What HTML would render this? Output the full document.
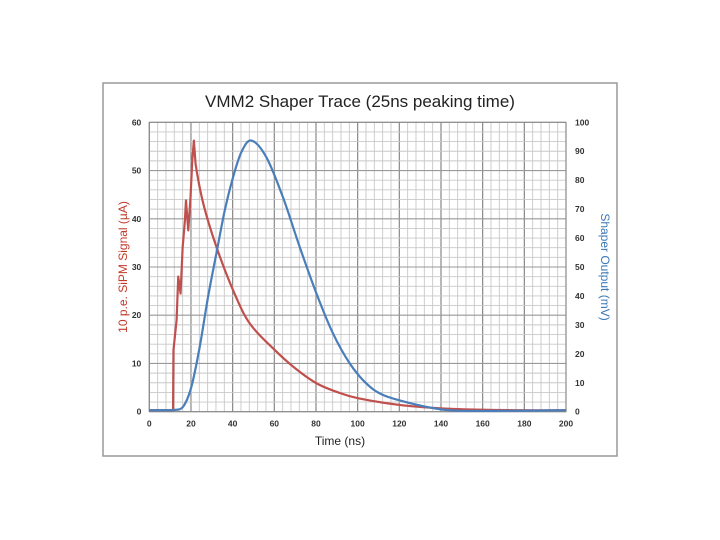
<!DOCTYPE html>
<html><head><meta charset="utf-8"><style>
body{margin:0;background:#fff;}
svg{display:block;font-family:"Liberation Sans",sans-serif;}
</style></head><body>
<svg width="720" height="540">
<rect x="103" y="83" width="514" height="373" fill="#fff" stroke="#999" stroke-width="1.5"/>
<text x="360" y="107" text-anchor="middle" font-size="17" fill="#222">VMM2 Shaper Trace (25ns peaking time)</text>
<g id="grid"></g>
<g id="axes"></g>
<g id="series"></g>
<text x="340" y="445" text-anchor="middle" font-size="12" fill="#222">Time  (ns)</text>
<text transform="translate(127,267) rotate(-90)" text-anchor="middle" font-size="12" fill="#c0392b">10 p.e. SiPM Signal (µA)</text>
<text transform="translate(601,267) rotate(90)" text-anchor="middle" font-size="12" fill="#3a78b8">Shaper Output (mV)</text>
</svg>
<script>
const xTicks=[0,20,40,60,80,100,120,140,160,180,200];
const leftTicks=[0,10,20,30,40,50,60];
const rightTicks=[0,10,20,30,40,50,60,70,80,90,100];
const signalTime=[0,11.4,11.6,13.1,13.9,15,16,17.1,17.6,18.7,19.8,20.6,21.4,22.2,26,32.2,40.2,48.2,60.2,70,80.2,90,100.1,120.1,140,160,180,200];
const signalValue=[0.3,0.3,12.8,19,28,24.5,34,39.7,43.8,37.6,44.5,52,56.2,51.4,43,34.2,25.2,18.3,12.8,9,5.9,4.1,2.8,1.4,0.7,0.4,0.3,0.3];
const shaperTime=[0,10,12,16.2,20.2,24.2,28.2,32.2,36.2,40.2,44.2,49,56.2,64.2,72.2,80.2,88.2,96.2,104.1,112.1,124.9,140,150,170,200];
const shaperValue=[0.5,0.5,0.6,1.7,8.6,22.4,39.7,54.7,69.5,81,89.7,93.7,87.9,74,56.9,40.9,27,16.7,9.8,5.8,3,0.8,0.3,0.3,0.5];
const X0=149.3,X1=566,Y0=411.7,Y1=122.3;
const sx=v=>X0+(v-0)/200*(X1-X0);
const syL=v=>Y0-v/60*(Y0-Y1);
const syR=v=>Y0-v/100*(Y0-Y1);
const NS="http://www.w3.org/2000/svg";
function mk(tag,attrs,parent){const e=document.createElementNS(NS,tag);for(const k in attrs)e.setAttribute(k,attrs[k]);parent.appendChild(e);return e;}
function smoothPath(pts,straightUntil){
  let d='M'+pts[0][0]+','+pts[0][1];
  for(let i=0;i<pts.length-1;i++){
    const p1=pts[i],p2=pts[i+1];
    if(i<straightUntil){d+=' L'+p2[0]+','+p2[1];continue;}
    const p0=pts[Math.max(0,i-1)],p3=pts[Math.min(pts.length-1,i+2)];
    const c1=[p1[0]+(p2[0]-p0[0])/6,p1[1]+(p2[1]-p0[1])/6];
    const c2=[p2[0]-(p3[0]-p1[0])/6,p2[1]-(p3[1]-p1[1])/6];
    d+=' C'+c1[0]+','+c1[1]+' '+c2[0]+','+c2[1]+' '+p2[0]+','+p2[1];
  }
  return d;
}
const grid=document.getElementById('grid'),axes=document.getElementById('axes'),series=document.getElementById('series');
for(let t=0;t<=200;t+=4){const major=t%20===0;
const l=mk('line',{x1:sx(t),x2:sx(t),y1:Y1,y2:Y0,stroke:major?'#888':'#c8c8c8','stroke-width':major?1.2:0.9},grid);

}
for(let v=0;v<=60;v+=2){const major=v%10===0;
const l=mk('line',{x1:X0,x2:X1,y1:syL(v),y2:syL(v),stroke:major?'#999':'#c8c8c8','stroke-width':major?1.1:0.9},grid);

}
mk('rect',{x:X0,y:Y1,width:X1-X0,height:Y0-Y1,fill:'none',stroke:'#888','stroke-width':1},grid);
xTicks.forEach(t=>{const e=mk('text',{x:sx(t),y:Y0+15,'text-anchor':'middle','font-size':8.5,'font-weight':'bold',fill:'#333'},axes);e.textContent=t;

});
leftTicks.forEach(t=>{const e=mk('text',{x:X0-8,y:syL(t)+3,'text-anchor':'end','font-size':8.5,'font-weight':'bold',fill:'#333'},axes);e.textContent=t;

});
rightTicks.forEach(t=>{const e=mk('text',{x:X1+9,y:syR(t)+3,'text-anchor':'start','font-size':8.5,'font-weight':'bold',fill:'#333'},axes);e.textContent=t;

});
const sp=mk('path',{d:smoothPath(signalTime.map((t,i)=>[sx(t),syL(signalValue[i])]),13),fill:'none',stroke:'#c0504d','stroke-width':2.2,'stroke-linejoin':'round'},series);


const bp=mk('path',{d:smoothPath(shaperTime.map((t,i)=>[sx(t),syR(shaperValue[i])]),0),fill:'none',stroke:'#4a7ebb','stroke-width':2.2,'stroke-linejoin':'round'},series);


</script>
</body></html>
